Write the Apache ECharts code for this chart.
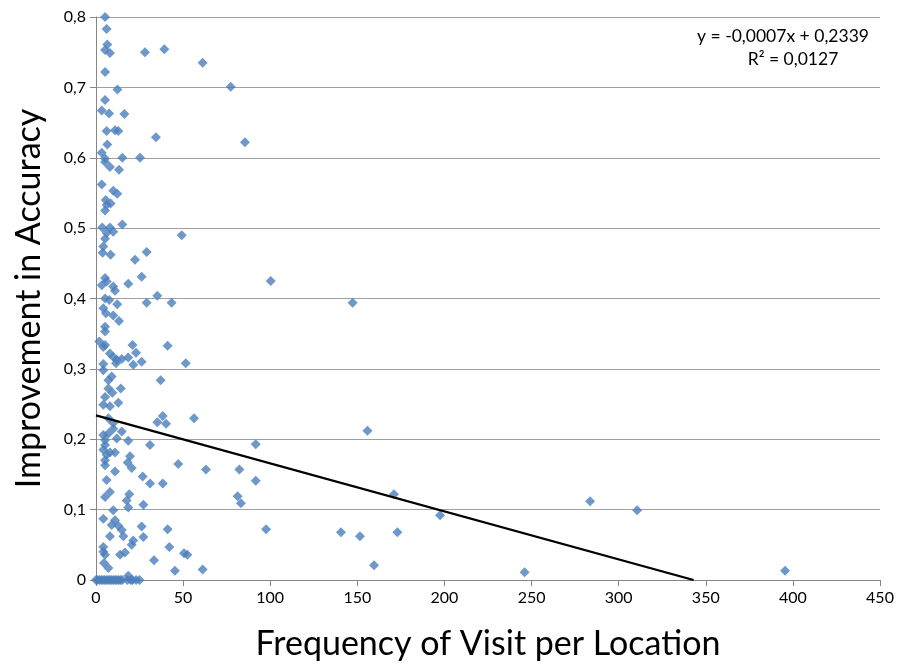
<!DOCTYPE html>
<html><head><meta charset="utf-8">
<script src="https://cdn.jsdelivr.net/npm/echarts@6/dist/echarts.min.js"></script>
<style>html,body{margin:0;padding:0;background:#fff}#c{width:900px;height:668px}</style>
</head><body><div id="c"></div>
<script>
// Scatter data: [frequency of visit, improvement in accuracy]
var scatterPoints = [
[5.2,0.800],[6.1,0.783],[6.5,0.761],[5.2,0.753],[8,0.749],[28.1,0.750],[39.2,0.754],[5.2,0.722],[12.3,0.697],[61.2,0.735],[77.3,0.701],[5.2,0.682],[3.3,0.667],[7.5,0.663],[16.3,0.662],[6.1,0.638],[10.9,0.639],[12.8,0.638],[34.4,0.629],[85.5,0.622],[6.5,0.619],[3.3,0.607],[5.2,0.599],[5.2,0.594],[15.1,0.600],[25.3,0.600],[8,0.587],[13.2,0.583],[3.3,0.562],[9.9,0.553],[12.2,0.549],[5.6,0.540],[8.4,0.535],[6.1,0.533],[5.2,0.525],[15.1,0.505],[3.6,0.501],[8,0.501],[6.1,0.493],[9.9,0.495],[5.2,0.485],[49.2,0.490],[4.2,0.474],[3.8,0.465],[8.4,0.462],[29.1,0.466],[22.4,0.455],[5.2,0.429],[6.1,0.424],[26.2,0.431],[18.5,0.421],[3.3,0.419],[9.9,0.417],[100.3,0.425],
[10.9,0.411],[5.2,0.400],[7.6,0.398],[12.2,0.392],[29.1,0.394],[35.2,0.404],[43.4,0.394],[147.3,0.394],[4.2,0.386],[5.7,0.379],[9.9,0.376],[13.2,0.368],[5.2,0.360],[5.2,0.353],[1.9,0.339],[5.2,0.334],[4.2,0.331],[21,0.334],[41.1,0.333],[23,0.323],[8,0.322],[9.9,0.317],[11.9,0.313],[14.8,0.314],[18.5,0.316],[21.4,0.306],[26.2,0.310],[11.5,0.308],[51.5,0.308],[4.2,0.307],[4.2,0.298],[9,0.289],[7.1,0.284],[37.1,0.284],[7.1,0.272],[9.4,0.266],[14.2,0.272],[5.2,0.260],[4.2,0.249],[8,0.247],[12.8,0.252],[7.1,0.230],[9.9,0.223],[35.2,0.224],[38.3,0.233],[40.2,0.222],[56.3,0.230],
[9.9,0.215],[14.8,0.211],[4.2,0.206],[7.1,0.208],[11.9,0.201],[5.2,0.199],[18.5,0.198],[5.2,0.192],[31,0.192],[91.7,0.193],[155.8,0.212],[4.2,0.185],[8,0.181],[10.9,0.181],[6.1,0.178],[19.5,0.176],[5.2,0.170],[18.2,0.167],[5.2,0.163],[20.5,0.159],[10.9,0.154],[47.2,0.165],[63.1,0.157],[82.3,0.157],[26.8,0.147],[6.1,0.142],[31,0.137],[38.3,0.137],[91.7,0.141],[8,0.125],[5.2,0.118],[19.1,0.122],[17.6,0.113],[81.3,0.119],[83.2,0.109],[171,0.122],[283.6,0.112],[27.2,0.107],[18.5,0.103],[9.9,0.099],[310.6,0.099],[197.5,0.092],[4.2,0.087],[10.9,0.085],[12.8,0.077],[9,0.078],[26.2,0.076],[41.1,0.072],[14.8,0.071],[97.6,0.072],[140.6,0.068],[151.5,0.062],[173,0.068],[15.7,0.062],[27.2,0.061],[8,0.062],[21.4,0.056],[20.5,0.050],[4.2,0.047],[42.1,0.047],[4.2,0.040],[13.8,0.036],[16.6,0.039],[5.2,0.036],[50.5,0.038],[52.4,0.036],[33.3,0.028],[4.6,0.024],[7.1,0.017],[45.3,0.013],[61.2,0.015],[159.6,0.021],[246,0.011],[395.5,0.013],[18.5,0.006],
[0,0],[1,0],[2,0],[3,0],[4,0],[5,0],[6,0],[7,0],[8,0],[9,0],[10,0],[11,0],[12,0],[13,0],[14,0],[15,0],[18,0],[20,0],[21,0],[23,0],[25,0]
];
// Linear trendline endpoints
var trendX = [0, 343];
var trendY = [0.2339, 0];
var equationText = 'y = -0,0007x + 0,2339';
var r2Text = 'R² = 0,0127';
var xTitle = 'Frequency of Visit per Location';
var yTitle = 'Improvement in Accuracy';

var trendData = trendX.map(function(x, i){ return [x, trendY[i]]; });
var FONT = 'Lato, "Open Sans", sans-serif';
var chart = echarts.init(document.getElementById('c'), null, {renderer:'canvas'});
chart.setOption({
  animation:false,
  backgroundColor:'#fff',
  grid:{left:96, right:20, top:17, bottom:88},
  xAxis:{
    type:'value', min:0, max:450, interval:50,
    name:xTitle, nameLocation:'middle', nameGap:47,
    nameTextStyle:{fontFamily:FONT, fontSize:34, color:'#000'},
    axisLine:{show:true, lineStyle:{color:'#868686', width:1}},
    axisTick:{show:true, length:6, lineStyle:{color:'#868686'}},
    axisLabel:{fontFamily:FONT, fontSize:16, color:'#000', margin:10},
    splitLine:{show:false}
  },
  yAxis:{
    type:'value', min:0, max:0.8, interval:0.1,
    name:yTitle, nameLocation:'middle', nameGap:50,
    nameTextStyle:{fontFamily:FONT, fontSize:34, color:'#000'},
    axisLine:{show:true, lineStyle:{color:'#868686', width:1}},
    axisTick:{show:true, length:6, lineStyle:{color:'#868686'}},
    axisLabel:{fontFamily:FONT, fontSize:16, color:'#000', margin:10,
      formatter:function(v){ return v===0 ? '0' : v.toFixed(1).replace('.', ','); }},
    splitLine:{show:true, lineStyle:{color:'#a0a0a0', width:1}}
  },
  series:[
    {type:'scatter', data:scatterPoints, symbol:'diamond', symbolSize:10,
     itemStyle:{color:'#4A7EBB'}, z:2},
    {type:'line', data:trendData, showSymbol:false, symbol:'none',
     lineStyle:{color:'#000', width:2.2}, z:3}
  ],
  graphic:[
    {type:'text', x:783, y:27, style:{text:equationText, textAlign:'center', font:'17.5px '+FONT, fill:'#000'}},
    {type:'text', x:793, y:50, style:{text:r2Text, textAlign:'center', font:'17.5px '+FONT, fill:'#000'}}
  ]
});
</script></body></html>
